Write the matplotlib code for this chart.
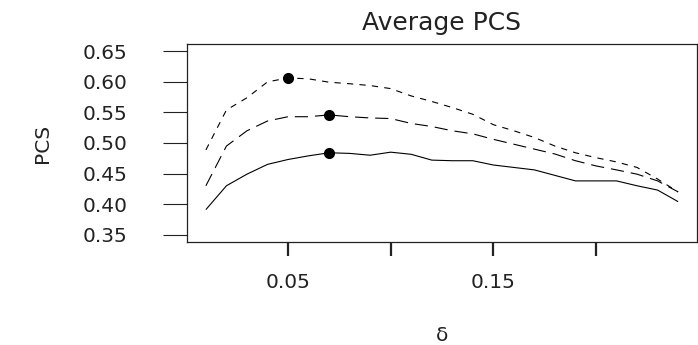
import numpy as np
import matplotlib
matplotlib.use("Agg")
import matplotlib.pyplot as plt

# delta grid
delta = [0.01, 0.02, 0.03, 0.04, 0.05, 0.06, 0.07, 0.08, 0.09, 0.10, 0.11, 0.12,
         0.13, 0.14, 0.15, 0.16, 0.17, 0.18, 0.19, 0.20, 0.21, 0.22, 0.23, 0.24]

# average PCS
pcs_solid = [0.391, 0.430, 0.449, 0.465, 0.473, 0.479, 0.484, 0.483, 0.480, 0.485,
             0.4815, 0.472, 0.471, 0.471, 0.464, 0.460, 0.456, 0.447, 0.438, 0.438,
             0.438, 0.430, 0.423, 0.404]
pcs_dashed = [0.430, 0.495, 0.520, 0.536, 0.543, 0.543, 0.546, 0.543, 0.541, 0.540,
              0.532, 0.527, 0.520, 0.515, 0.506, 0.498, 0.490, 0.482, 0.471, 0.4625,
              0.456, 0.449, 0.438, 0.420]
pcs_dotted = [0.4886, 0.554, 0.574, 0.600, 0.6065, 0.605, 0.5995, 0.597, 0.594, 0.589,
              0.577, 0.568, 0.558, 0.547, 0.530, 0.520, 0.509, 0.495, 0.484, 0.476,
              0.469, 0.460, 0.441, 0.420]

# delta where each curve carries its big dot
best_delta = [0.07, 0.07, 0.05]

yticks = [0.35, 0.40, 0.45, 0.50, 0.55, 0.60, 0.65]
xticks = [0.05, 0.10, 0.15, 0.20]
xticklabels = ["0.05", "", "0.15", ""]

plt.rcParams['font.family'] = ['DejaVu Sans']
plt.rcParams['lines.scale_dashes'] = False

fig = plt.figure(figsize=(6.98, 3.45), dpi=100)
ax = fig.add_axes([187 / 698, 103 / 345, 510 / 698, 198 / 345])

series = [
    (pcs_solid, (0, ())),
    (pcs_dashed, (0, (9.5, 5))),
    (pcs_dotted, (0, (4.5, 4.5))),
]
for (vals, ls), bd in zip(series, best_delta):
    ax.plot(delta, vals, color="black", lw=0.8, linestyle=ls)
    i = delta.index(bd)
    ax.plot(delta[i], vals[i], "o", color="black", ms=7)

ax.set_xlim(0.0008, 0.2492)
ax.set_ylim(0.338, 0.662)
ax.set_yticks(yticks)
ax.set_yticklabels(["%.2f" % v for v in yticks])
ax.set_xticks(xticks)
ax.set_xticklabels(xticklabels)

ax.tick_params(axis='y', length=17, width=0.8, pad=26, labelsize=14.5, colors="#222222")
ax.tick_params(axis='x', length=10, width=1.6, pad=12, labelsize=14.5, colors="#222222")
for s in ax.spines.values():
    s.set_linewidth(0.9)
    s.set_color("#222222")

ax.set_title("Average PCS", fontsize=18, pad=10, color="#222222")
ax.set_xlabel("δ", fontsize=14.5, labelpad=25, color="#222222")
ax.set_ylabel("PCS", fontsize=14.5, labelpad=22, color="#222222")

fig.savefig("out.png", dpi=100)
